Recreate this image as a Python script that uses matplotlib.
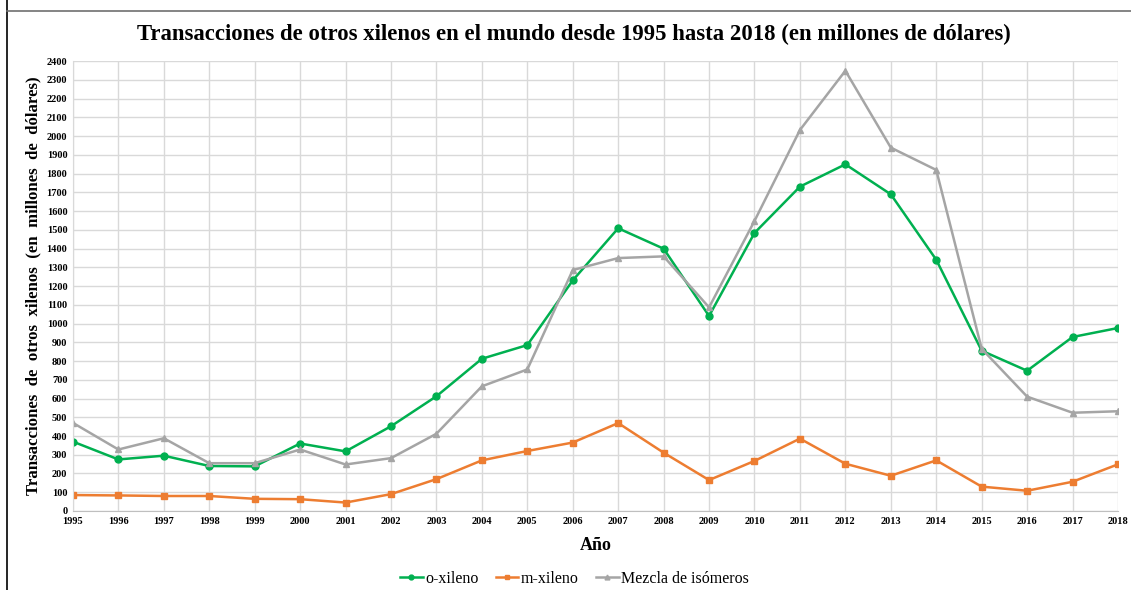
import matplotlib
matplotlib.use('Agg')
import matplotlib.pyplot as plt
from matplotlib.lines import Line2D

years = list(range(1995, 2019))
o_xileno = [370, 275, 295, 240, 238, 360, 318, 452, 612, 812, 885, 1230,
            1508, 1399, 1040, 1483, 1730, 1849, 1689, 1340, 855, 748, 928, 976]
m_xileno = [85, 83, 80, 80, 65, 63, 45, 90, 170, 270, 320, 365,
            469, 311, 165, 267, 386, 252, 188, 270, 130, 108, 156, 249]
mezcla = [470, 328, 388, 255, 255, 328, 248, 282, 412, 665, 755, 1285,
          1349, 1358, 1086, 1547, 2032, 2348, 1938, 1819, 865, 610, 524, 532]
yticks = list(range(0, 2401, 100))

plt.rcParams['font.family'] = ['Liberation Serif', 'DejaVu Serif']

fig = plt.figure(figsize=(11.31, 5.90), dpi=100)
ax = fig.add_axes([0.0645, 0.1339, 0.924, 0.7627])

ax.plot(years, o_xileno, color='#00b050', marker='o', markersize=5,
        linewidth=1.8, label='o-xileno')
ax.plot(years, m_xileno, color='#ed7d31', marker='s', markersize=5,
        linewidth=1.8, label='m-xileno')
ax.plot(years, mezcla, color='#a5a5a5', marker='^', markersize=5,
        linewidth=1.8, label='Mezcla de isómeros')

ax.set_xlim(1995, 2018)
ax.set_ylim(0, 2400)
ax.set_xticks(years)
ax.set_yticks(yticks)
ax.tick_params(length=0, labelsize=7.5, pad=4)
for lab in ax.get_xticklabels() + ax.get_yticklabels():
    lab.set_fontweight('bold')
ax.grid(True, color='#d9d9d9', linewidth=1)
ax.set_axisbelow(True)
for side in ['top', 'right']:
    ax.spines[side].set_visible(False)
ax.spines['left'].set_color('#d9d9d9')
ax.spines['bottom'].set_color('#bfbfbf')

ax.set_xlabel('Año', fontsize=13, fontweight='bold', labelpad=8)
ax.set_ylabel('Transacciones  de  otros  xilenos  (en  millones  de  dólares)',
              fontsize=12.1, fontweight='bold', labelpad=4)
fig.text(0.507, 0.941, 'Transacciones de otros xilenos en el mundo desde 1995 hasta 2018 (en millones de dólares)',
         ha='center', va='center', fontsize=16.4, fontweight='bold')

ax.legend(loc='center', bbox_to_anchor=(0.48, -0.151), ncol=3, frameon=False,
          fontsize=11.5, handlelength=1.4, handletextpad=0.15, columnspacing=1.1,
          markerscale=0.7)

# frame lines of the original picture
fig.add_artist(Line2D([0.006, 0.006], [0, 1], color='black', linewidth=1.2))
fig.add_artist(Line2D([0.006, 1], [0.981, 0.981], color='#707070', linewidth=1.2))

fig.savefig('out.png', dpi=100)
